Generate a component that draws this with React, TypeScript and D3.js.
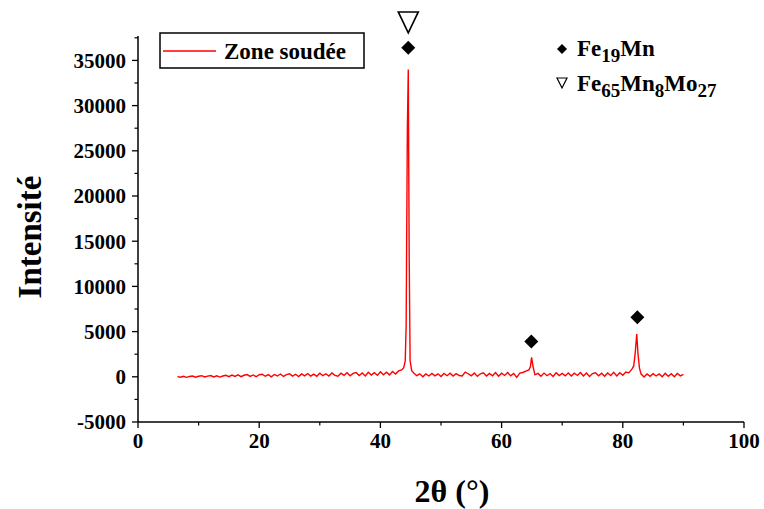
import React from "react";
import * as d3 from "d3";

// ---- Data ----
const scanStart = 6.5; // 2θ of first baseline sample
const scanStep = 0.5;
// baseline counts every 0.5° from 6.5° to 90° (null where a peak profile is given instead)
const baselineCounts: (number | null)[] = [
  20, -40, 60, -60, 40, 90, -50, 60, 120, -20,
  70, 140, -10, 110, -30, 90, 170, 10, 190, 40,
  210, 20, 170, 250, 40, 200, 10, 230, 280, 60,
  240, 0, 260, 90, 310, 40, 250, 330, 70, 280,
  20, 320, 110, 360, 80, 300, 50, 390, 130, 340,
  90, 420, 160, 60, 400, 170, 450, 110, 380, 470,
  140, 430, 100, 510, 200, 460, 160, 560, 220, 500,
  210, 590, 300, 650, 760, null, null, null, 430, 120,
  330, 10, 310, 90, 380, 100, 330, 40, 370, 120,
  400, 80, 350, 140, 90, 520, 340, 110, 420, 50,
  330, 440, 90, 380, 120, 470, 60, 400, 150, 480,
  100, 370, -60, 410, 480, 620, 760, null, 220, 380,
  70, 410, 120, 360, 30, 440, 130, 380, 100, 420,
  80, 390, 150, 470, 90, 410, 30, 360, 450, 120,
  400, 60, 420, 150, 490, 90, 440, 170, 530, 440,
  850, null, null, 330, -20, 310, 50, 350, 90, 320,
  10, 380, 60, 340, 0, 360, 110, 280,
];
// peak profiles [2θ, intensity]
const peak44: [number, number][] = [
  [43.85, 1000], [44.1, 1750], [44.25, 5700], [44.45, 27500],
  [44.6, 34000], [44.75, 13500], [44.9, 1800], [45.15, 700],
];
const peak65: [number, number][] = [
  [64.75, 1100], [64.95, 2150], [65.2, 1100],
];
const peak82: [number, number][] = [
  [81.8, 1200], [82.05, 2650], [82.3, 4730], [82.5, 2600], [82.75, 950],
];
// phase markers [2θ, intensity at marker]
const fe19MnMarks: [number, number][] = [[44.6, 36400], [64.9, 3900], [82.4, 6600]];
const fe65Marks: [number, number][] = [[44.6, 39200]];

const xTicks = [0, 20, 40, 60, 80, 100];
const xMinor = [10, 30, 50, 70, 90];
const yTicks = [-5000, 0, 5000, 10000, 15000, 20000, 25000, 30000, 35000];
const yMinor = [-2500, 2500, 7500, 12500, 17500, 22500, 27500, 32500, 37500];

const seriesName = "Zone soudée";
const xTitle = "2θ (°)";
const yTitle = "Intensité";

const W = 764, H = 509;
const FONT = "'Liberation Serif', 'Times New Roman', serif";

export default function App() {
  const x = d3.scaleLinear().domain([0, 100]).range([138, 744]);
  const y = d3.scaleLinear().domain([-5000, 37700]).range([422, 36]);

  const pts: [number, number][] = [];
  baselineCounts.forEach((v, i) => {
    if (v !== null) pts.push([scanStart + i * scanStep, v]);
  });
  pts.push(...peak44, ...peak65, ...peak82);
  pts.sort((a, b) => a[0] - b[0]);

  const line = d3
    .line<[number, number]>()
    .x((d) => x(d[0]))
    .y((d) => y(d[1]));

  const diamond = (cx: number, cy: number, r: number) =>
    `M${cx},${cy - r}L${cx + r},${cy}L${cx},${cy + r}L${cx - r},${cy}Z`;
  const tri = (cx: number, cy: number, w: number, h: number) =>
    `M${cx - w / 2},${cy - h / 2}L${cx + w / 2},${cy - h / 2}L${cx},${cy + h / 2}Z`;

  const x0 = x.range()[0];
  const yb = y(-5000);

  return (
    <svg
      width={W}
      height={H}
      style={{ position: "absolute", left: 0, top: 0, background: "#fff" }}
      fontFamily={FONT}
    >
      <rect width={W} height={H} fill="#fff" />
      {/* axes */}
      <line x1={x0} x2={x0} y1={yb} y2={y.range()[1]} stroke="#000" strokeWidth={1.5} />
      <line x1={x0} x2={x(100)} y1={yb} y2={yb} stroke="#000" strokeWidth={1.5} />
      {yTicks.map((t) => (
        <g key={"y" + t}>
          <line x1={x0 - 6} x2={x0} y1={y(t)} y2={y(t)} stroke="#000" strokeWidth={1.3} />
          <text x={x0 - 12} y={y(t)} dy="0.35em" textAnchor="end" fontSize={21} fontWeight="bold">
            {t}
          </text>
        </g>
      ))}
      {yMinor.map((t) => (
        <line key={"ym" + t} x1={x0 - 3.5} x2={x0} y1={y(t)} y2={y(t)} stroke="#000" strokeWidth={1.2} />
      ))}
      {xTicks.map((t) => (
        <g key={"x" + t}>
          <line x1={x(t)} x2={x(t)} y1={yb} y2={yb + 6} stroke="#000" strokeWidth={1.3} />
          <text x={x(t)} y={yb + 26} textAnchor="middle" fontSize={21} fontWeight="bold">
            {t}
          </text>
        </g>
      ))}
      {xMinor.map((t) => (
        <line key={"xm" + t} x1={x(t)} x2={x(t)} y1={yb} y2={yb + 3.5} stroke="#000" strokeWidth={1.2} />
      ))}
      {/* titles */}
      <text
        transform={`translate(41,237) rotate(-90)`}
        textAnchor="middle"
        fontSize={33}
        fontWeight="bold"
      >
        {yTitle}
      </text>
      <text x={452} y={502} textAnchor="middle" fontSize={32} fontWeight="bold">
        {xTitle}
      </text>
      {/* data */}
      <path d={line(pts) || ""} fill="none" stroke="#ff0000" strokeWidth={1.4} strokeLinejoin="miter" />
      {/* phase markers */}
      {fe19MnMarks.map((m, i) => (
        <path key={"d" + i} d={diamond(x(m[0]), y(m[1]), 7)} fill="#000" />
      ))}
      {fe65Marks.map((m, i) => (
        <path key={"t" + i} d={tri(x(m[0]), y(m[1]), 20, 21)} fill="none" stroke="#000" strokeWidth={1.6} />
      ))}
      {/* legend */}
      <rect x={160} y={33} width={204} height={35} fill="#fff" stroke="#000" strokeWidth={1.5} />
      <line x1={163} x2={216} y1={51} y2={51} stroke="#ff0000" strokeWidth={1.3} />
      <text x={224} y={59} fontSize={23} fontWeight="bold">
        {seriesName}
      </text>
      {/* phase key */}
      <path d={diamond(562, 49, 5)} fill="#000" />
      <text x={577} y={56} fontSize={23} fontWeight="bold">
        Fe<tspan fontSize={19} dy={6}>19</tspan>
        <tspan dy={-6}>Mn</tspan>
      </text>
      <path d={tri(562, 83, 10, 10)} fill="none" stroke="#000" strokeWidth={1.2} />
      <text x={577} y={91} fontSize={23} fontWeight="bold">
        Fe<tspan fontSize={19} dy={6}>65</tspan>
        <tspan dy={-6}>Mn</tspan>
        <tspan fontSize={19} dy={6}>8</tspan>
        <tspan dy={-6}>Mo</tspan>
        <tspan fontSize={19} dy={6}>27</tspan>
      </text>
    </svg>
  );
}
